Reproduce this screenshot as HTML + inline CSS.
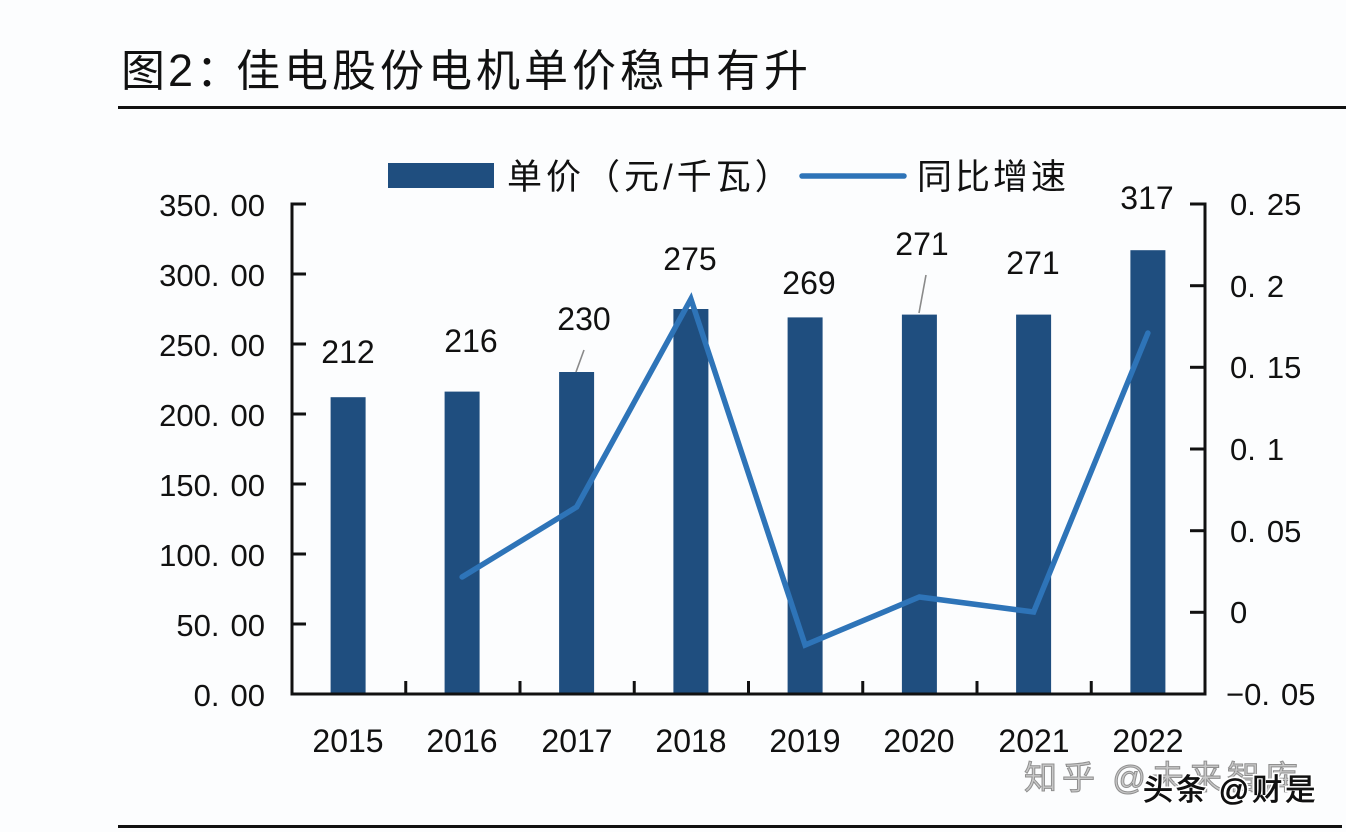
<!DOCTYPE html>
<html><head><meta charset="utf-8"><style>
html,body{margin:0;padding:0;background:#fcfdfe;}
svg{display:block;}
.t{font-family:"Liberation Sans","Noto Sans CJK SC",sans-serif;fill:#111;}
.c{font-family:"Noto Sans CJK SC","WenQuanYi Zen Hei",sans-serif;fill:#111;}
</style></head><body>
<svg width="1346" height="832" viewBox="0 0 1346 832" xmlns="http://www.w3.org/2000/svg">
<rect width="1346" height="832" fill="#fcfdfe"/>
<!-- title -->
<text x="121" y="86" class="c" font-size="44" letter-spacing="3"><tspan>图</tspan><tspan font-family="Liberation Sans" font-size="45">2</tspan><tspan>：</tspan><tspan x="236" letter-spacing="4">佳电股份电机单价稳中有升</tspan></text>
<rect x="118" y="106" width="1228" height="3" fill="#111"/>
<!-- legend -->
<rect x="388" y="163" width="106" height="25" fill="#1f4e7f"/>
<text x="507" y="189" class="c" font-size="35" letter-spacing="4">单价（元<tspan font-family="Liberation Sans">/</tspan>千瓦）</text>
<line x1="802" y1="176" x2="904" y2="176" stroke="#2e74b8" stroke-width="5.5" stroke-linecap="round"/>
<text x="917" y="189" class="c" font-size="35" letter-spacing="3">同比增速</text>
<!-- bars -->
<g fill="#1f4e7f">
<rect x="330.6" y="397.2" width="35" height="296.8"/>
<rect x="444.6" y="391.6" width="35" height="302.4"/>
<rect x="559.1" y="372" width="35" height="322"/>
<rect x="673.4" y="309" width="35" height="385"/>
<rect x="787.6" y="317.4" width="35" height="376.6"/>
<rect x="901.9" y="314.6" width="35" height="379.4"/>
<rect x="1016.1" y="314.6" width="35" height="379.4"/>
<rect x="1130.4" y="250.2" width="35" height="443.8"/>
</g>
<!-- line -->
<polyline points="462.1,577 576.6,507 690.9,299 805.1,645 919.4,597 1033.6,612 1147.9,333" fill="none" stroke="#2e74b8" stroke-width="5.5" stroke-linejoin="miter" stroke-miterlimit="10" stroke-linecap="round"/>
<!-- axes -->
<g stroke="#111" stroke-width="3" fill="none">
<line x1="292" y1="202.5" x2="292" y2="695.5"/>
<line x1="1205" y1="202.5" x2="1205" y2="695.5"/>
<line x1="290.5" y1="694" x2="1206.5" y2="694"/>
<line x1="292" y1="204" x2="306" y2="204"/>
<line x1="292" y1="274" x2="306" y2="274"/>
<line x1="292" y1="344" x2="306" y2="344"/>
<line x1="292" y1="414" x2="306" y2="414"/>
<line x1="292" y1="484" x2="306" y2="484"/>
<line x1="292" y1="554" x2="306" y2="554"/>
<line x1="292" y1="624" x2="306" y2="624"/>
<line x1="1190" y1="204" x2="1205" y2="204"/>
<line x1="1190" y1="285.7" x2="1205" y2="285.7"/>
<line x1="1190" y1="367.3" x2="1205" y2="367.3"/>
<line x1="1190" y1="449" x2="1205" y2="449"/>
<line x1="1190" y1="530.7" x2="1205" y2="530.7"/>
<line x1="1190" y1="612.3" x2="1205" y2="612.3"/>
<line x1="405.75" y1="694" x2="405.75" y2="681"/>
<line x1="520" y1="694" x2="520" y2="681"/>
<line x1="634.25" y1="694" x2="634.25" y2="681"/>
<line x1="748.5" y1="694" x2="748.5" y2="681"/>
<line x1="862.75" y1="694" x2="862.75" y2="681"/>
<line x1="977" y1="694" x2="977" y2="681"/>
<line x1="1091.25" y1="694" x2="1091.25" y2="681"/>
</g>
<!-- left labels -->
<g class="t" font-size="31" text-anchor="end">
<text x="265" y="216">350.<tspan dx="11">00</tspan></text>
<text x="265" y="286">300.<tspan dx="11">00</tspan></text>
<text x="265" y="356">250.<tspan dx="11">00</tspan></text>
<text x="265" y="426">200.<tspan dx="11">00</tspan></text>
<text x="265" y="496">150.<tspan dx="11">00</tspan></text>
<text x="265" y="566">100.<tspan dx="11">00</tspan></text>
<text x="265" y="636">50.<tspan dx="11">00</tspan></text>
<text x="265" y="706">0.<tspan dx="11">00</tspan></text>
</g>
<!-- right labels -->
<g class="t" font-size="31">
<text x="1230" y="215">0.<tspan dx="11">25</tspan></text>
<text x="1230" y="297">0.<tspan dx="11">2</tspan></text>
<text x="1230" y="378">0.<tspan dx="11">15</tspan></text>
<text x="1230" y="460">0.<tspan dx="11">1</tspan></text>
<text x="1230" y="542">0.<tspan dx="11">05</tspan></text>
<text x="1230" y="623">0</text>
<text x="1226" y="705">−0.<tspan dx="11">05</tspan></text>
</g>
<!-- x labels -->
<g class="t" font-size="32" text-anchor="middle">
<text x="348" y="752">2015</text>
<text x="462" y="752">2016</text>
<text x="577" y="752">2017</text>
<text x="691" y="752">2018</text>
<text x="805" y="752">2019</text>
<text x="919" y="752">2020</text>
<text x="1034" y="752">2021</text>
<text x="1148" y="752">2022</text>
</g>
<!-- data labels -->
<g class="t" font-size="32" text-anchor="middle">
<text x="348" y="363">212</text>
<text x="471" y="352">216</text>
<text x="584" y="330">230</text>
<text x="690" y="270">275</text>
<text x="809" y="294">269</text>
<text x="922" y="255">271</text>
<text x="1033" y="274">271</text>
<text x="1147" y="209">317</text>
</g>
<g stroke="#8a8a8a" stroke-width="1.6">
<line x1="584" y1="350" x2="576" y2="372"/>
<line x1="926" y1="275" x2="919" y2="313"/>
</g>
<!-- watermarks -->
<text x="1024" y="789" font-family="Noto Sans CJK SC,sans-serif" font-size="33" letter-spacing="5" fill="#c8c8c8" stroke="#8f8f8f" stroke-width="1">知乎 <tspan font-family="Liberation Sans">@</tspan>未来智库</text>
<text x="1143" y="800" font-family="Noto Sans CJK SC,sans-serif" font-size="30" letter-spacing="3" fill="#111" stroke="#fff" stroke-width="4" paint-order="stroke">头条 <tspan font-family="Liberation Sans">@</tspan>财是</text>
<text x="1143" y="800" font-family="Noto Sans CJK SC,sans-serif" font-size="30" letter-spacing="3" fill="#111" stroke="#111" stroke-width="0.8">头条 <tspan font-family="Liberation Sans">@</tspan>财是</text>
<!-- bottom rule -->
<rect x="118" y="825" width="1224" height="3" fill="#111"/>
</svg>
</body></html>
